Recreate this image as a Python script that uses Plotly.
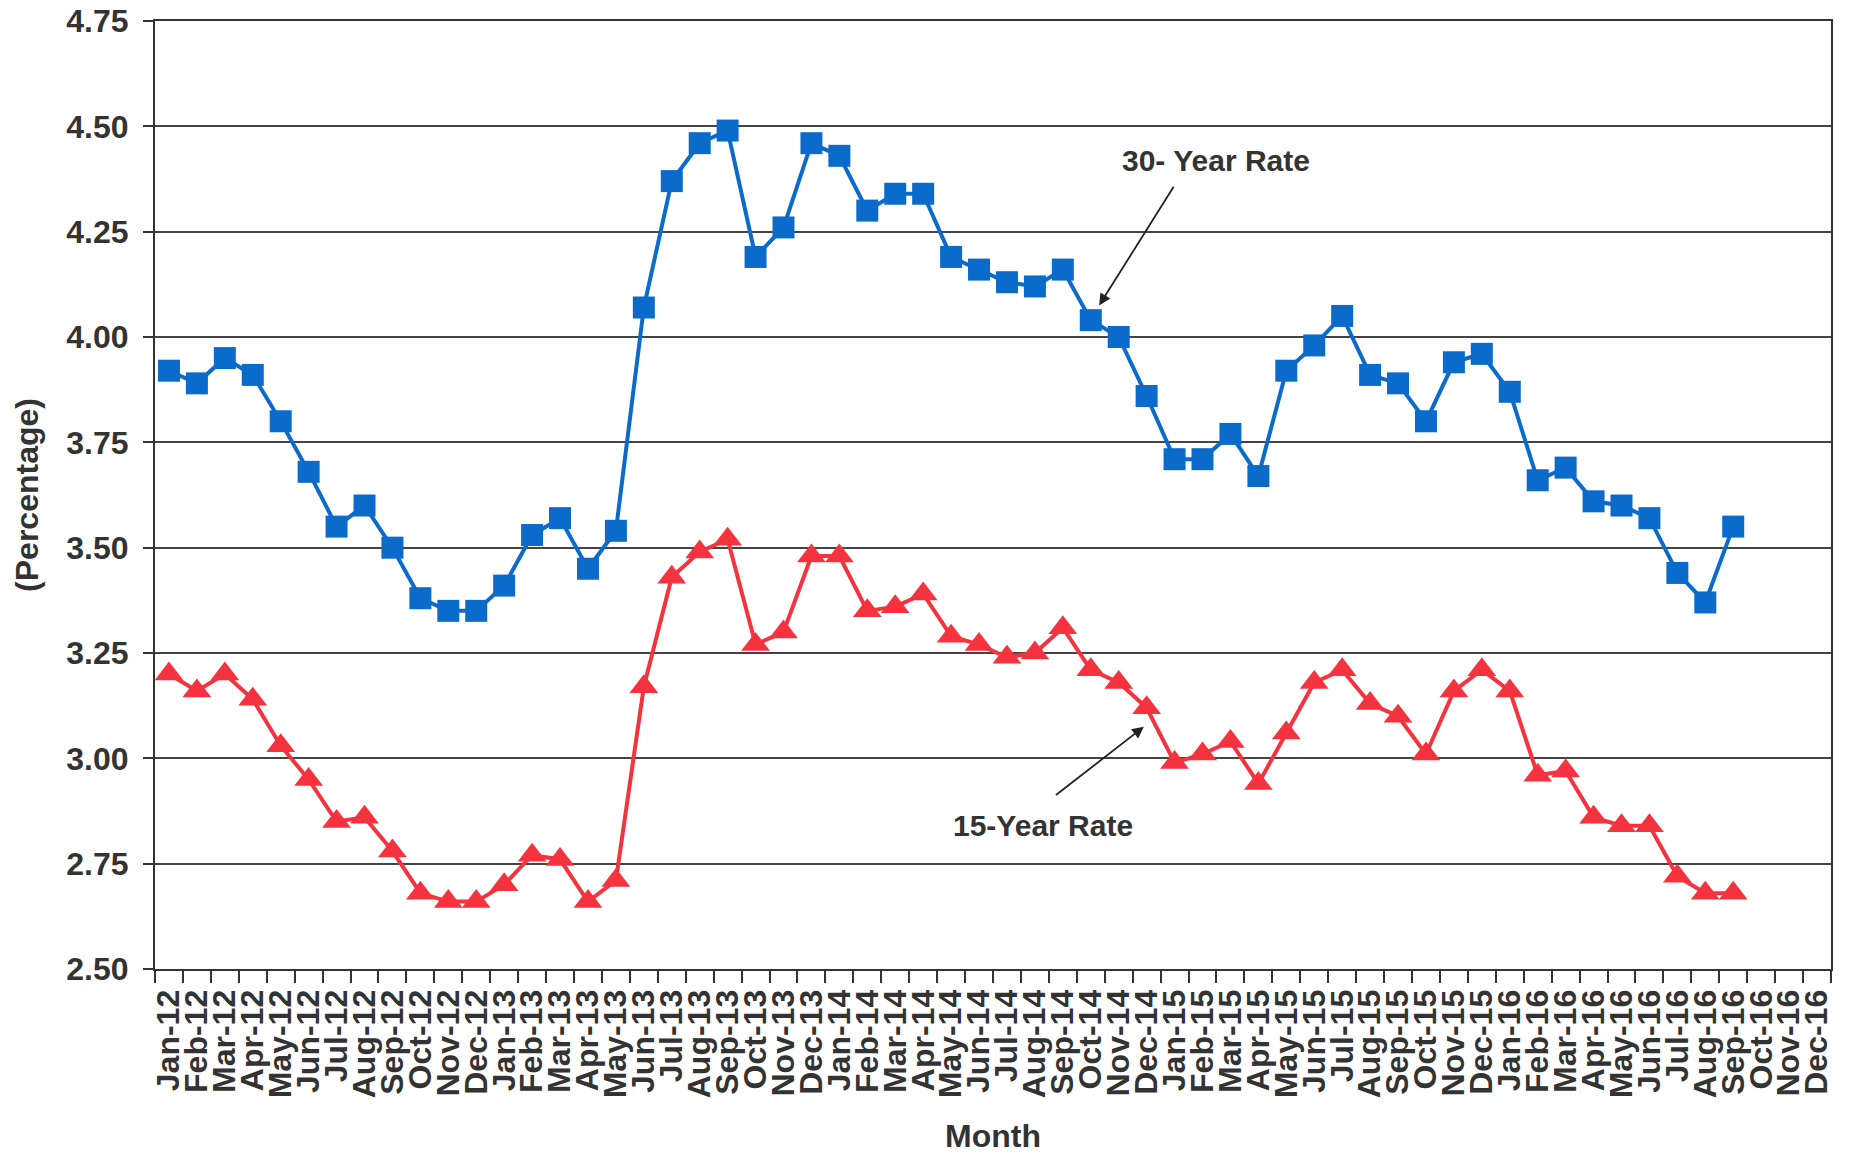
import plotly.graph_objects as go

months = ["Jan", "Feb", "Mar", "Apr", "May", "Jun", "Jul", "Aug", "Sep", "Oct", "Nov", "Dec"]
years = ["12", "13", "14", "15", "16"]
categories = [f"{m}-{y}" for y in years for m in months]

rate_30 = [3.92, 3.89, 3.95, 3.91, 3.80, 3.68, 3.55, 3.60, 3.50, 3.38, 3.35, 3.35,
           3.41, 3.53, 3.57, 3.45, 3.54, 4.07, 4.37, 4.46, 4.49, 4.19, 4.26, 4.46,
           4.43, 4.30, 4.34, 4.34, 4.19, 4.16, 4.13, 4.12, 4.16, 4.04, 4.00, 3.86,
           3.71, 3.71, 3.77, 3.67, 3.92, 3.98, 4.05, 3.91, 3.89, 3.80, 3.94, 3.96,
           3.87, 3.66, 3.69, 3.61, 3.60, 3.57, 3.44, 3.37, 3.55]
rate_15 = [3.20, 3.16, 3.20, 3.14, 3.03, 2.95, 2.85, 2.86, 2.78, 2.68, 2.66, 2.66,
           2.70, 2.77, 2.76, 2.66, 2.71, 3.17, 3.43, 3.49, 3.52, 3.27, 3.30, 3.48,
           3.48, 3.35, 3.36, 3.39, 3.29, 3.27, 3.24, 3.25, 3.31, 3.21, 3.18, 3.12,
           2.99, 3.01, 3.04, 2.94, 3.06, 3.18, 3.21, 3.13, 3.10, 3.01, 3.16, 3.21,
           3.16, 2.96, 2.97, 2.86, 2.84, 2.84, 2.72, 2.68, 2.68]

y_ticks = [2.50, 2.75, 3.00, 3.25, 3.50, 3.75, 4.00, 4.25, 4.50, 4.75]

BLUE = "#0b6bcb"
RED = "#f5333f"
TEXT = "#333333"
FONT = "Liberation Sans, Arial, sans-serif"

fig = go.Figure()
fig.add_trace(go.Scatter(
    x=categories[:len(rate_30)], y=rate_30, mode="lines+markers", name="30-Year Rate",
    line=dict(color=BLUE, width=4),
    marker=dict(symbol="square", size=22, color=BLUE)))
fig.add_trace(go.Scatter(
    x=categories[:len(rate_15)], y=rate_15, mode="lines+markers", name="15-Year Rate",
    line=dict(color=RED, width=4),
    marker=dict(symbol="triangle-up", size=25, color=RED)))

annotations = [
    dict(text="30- Year Rate", x=37.5, y=4.42),
    dict(text="15-Year Rate", x=31.3, y=2.84),
]
arrows = [
    dict(x=33.3, y=4.075, ax=36.0, ay=4.36),
    dict(x=34.9, y=3.075, ax=31.7, ay=2.91),
]
for a in annotations:
    fig.add_annotation(x=a["x"], y=a["y"], xref="x", yref="y", text=a["text"],
                       showarrow=False,
                       font=dict(family=FONT, size=30, color=TEXT, weight="bold"))
for a in arrows:
    fig.add_annotation(x=a["x"], y=a["y"], ax=a["ax"], ay=a["ay"], xref="x", yref="y",
                       axref="x", ayref="y", text="", showarrow=True,
                       arrowhead=2, arrowsize=1.3, arrowwidth=1.8, arrowcolor="#222222")

fig.update_layout(
    width=1849, height=1154,
    margin=dict(l=155, r=18, t=21, b=185, autoexpand=False),
    paper_bgcolor="white", plot_bgcolor="white",
    showlegend=False, hovermode=False,
    font=dict(family=FONT, color=TEXT),
)
fig.update_xaxes(
    type="category", categoryorder="array", categoryarray=categories,
    tickmode="array", tickvals=categories, ticktext=categories,
    range=[-0.5, len(categories) - 0.5],
    tickangle=-90, tickson="boundaries", ticks="outside", ticklen=12, tickwidth=1.5,
    tickcolor="#333333", ticklabelstandoff=6, ticklabeloverflow="allow",
    tickfont=dict(family=FONT, size=32, color=TEXT, weight="bold"),
    showline=True, linecolor="#333333", linewidth=2, mirror=True,
    showgrid=False, automargin=False,
    title=dict(text="Month", standoff=28,
               font=dict(family=FONT, size=32, color=TEXT, weight="bold")),
)
fig.update_yaxes(
    range=[2.5, 4.75], tickvals=y_ticks, ticktext=[f"{v:.2f}" for v in y_ticks],
    ticks="outside", ticklen=10, tickwidth=1.5, tickcolor="#333333",
    ticklabelstandoff=8, ticklabeloverflow="allow",
    tickfont=dict(family=FONT, size=32, color=TEXT, weight="bold"),
    showline=True, linecolor="#333333", linewidth=2, mirror=True,
    showgrid=True, gridcolor="#444444", gridwidth=1.5, zeroline=False,
    automargin=False,
    title=dict(text="(Percentage)", standoff=18,
               font=dict(family=FONT, size=32, color=TEXT, weight="bold")),
)

fig.write_html("out.html", config={"displayModeBar": False},
               post_script="document.body.style.margin='0px';document.body.style.overflow='hidden';")
